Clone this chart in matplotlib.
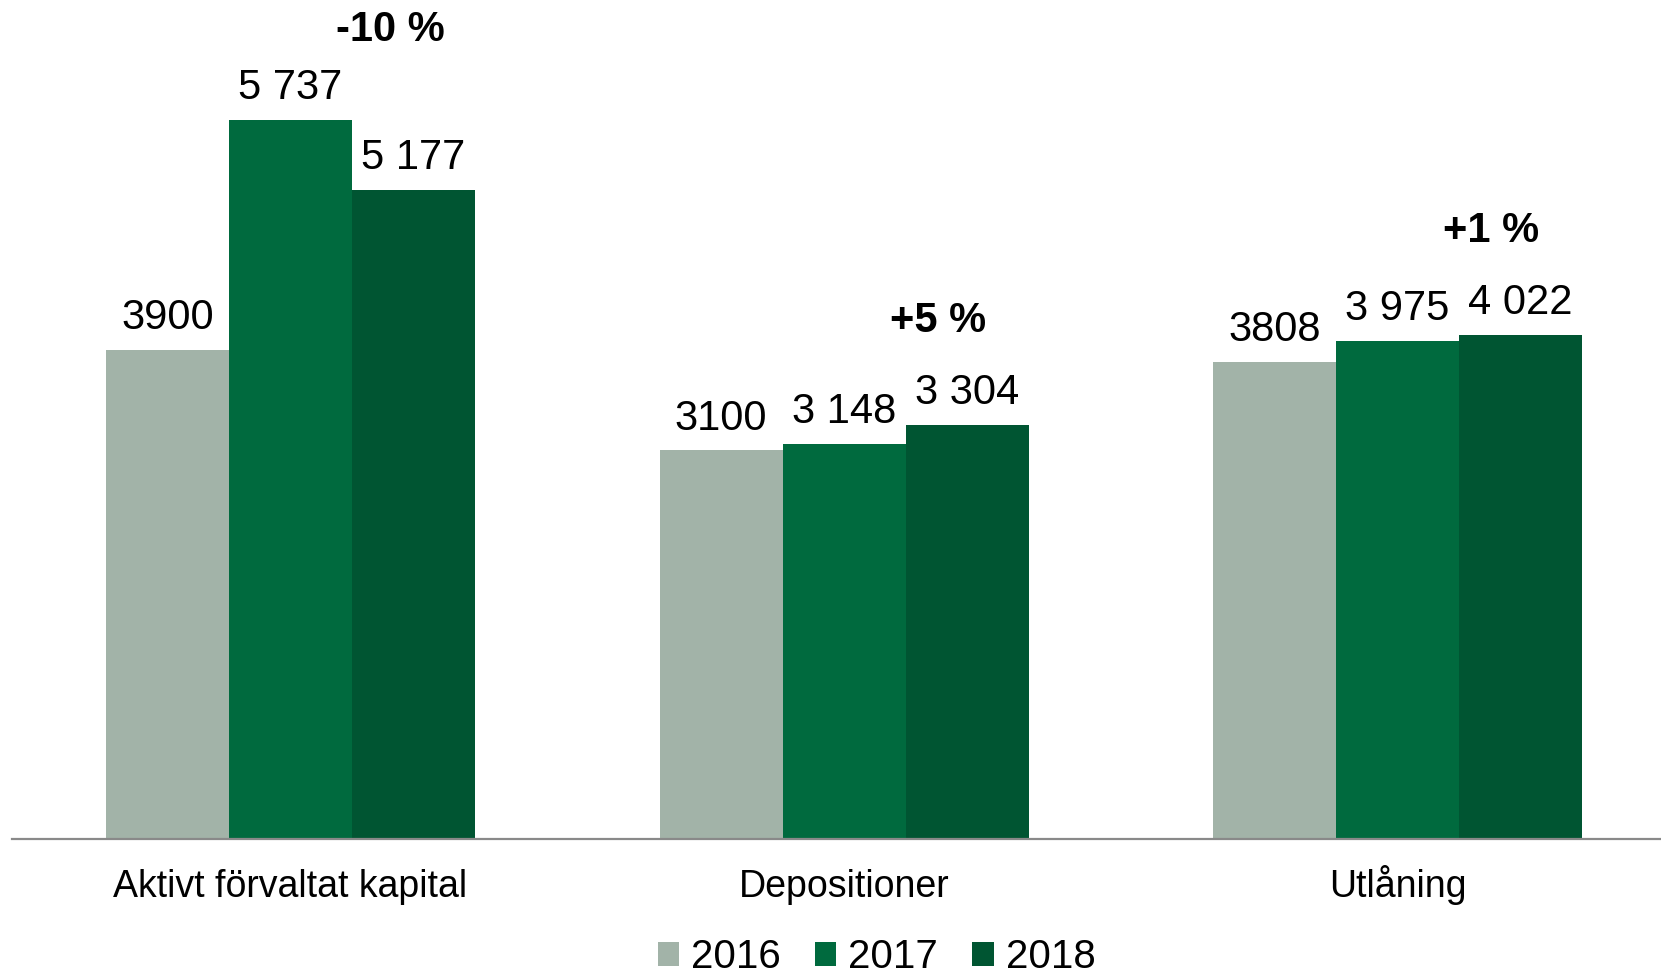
import matplotlib
matplotlib.use("Agg")
import matplotlib.pyplot as plt
from matplotlib.patches import Patch
import numpy as np

# ---- data ----
categories = ["Aktivt förvaltat kapital", "Depositioner", "Utlåning"]
years = ["2016", "2017", "2018"]
values_2016 = [3900, 3100, 3808]
values_2017 = [5737, 3148, 3975]
values_2018 = [5177, 3304, 4022]
labels_2016 = ["3900", "3100", "3808"]
labels_2017 = ["5 737", "3 148", "3 975"]
labels_2018 = ["5 177", "3 304", "4 022"]
changes = ["-10 %", "+5 %", "+1 %"]

colors = ["#A2B3A8", "#006A3E", "#005532"]

plt.rcParams['font.family'] = ['Liberation Sans', 'DejaVu Sans']

W, H = 1661, 974
fig = plt.figure(figsize=(W / 100, H / 100), dpi=100)
left_px, base_px = 12, 839
ax = fig.add_axes([left_px / W, (H - base_px) / H, (W - left_px) / W, base_px / H])

x = np.arange(len(categories))
bw = 2 / 9
series = [values_2016, values_2017, values_2018]
labels = [labels_2016, labels_2017, labels_2018]
for i, (vals, lab) in enumerate(zip(series, labels)):
    b = ax.bar(x + (i - 1) * bw, vals, width=bw, color=colors[i], edgecolor='none', zorder=2)
    ax.bar_label(b, labels=lab, padding=8.5, fontsize=30, color='black')

# percentage change annotations
dx_pts = [-17, -21, -21]
dy_pts = [64.5, 74.5, 74.5]
for j in range(len(categories)):
    top = max(values_2016[j], values_2017[j], values_2018[j])
    ax.annotate(changes[j], xy=(x[j] + bw, top), xytext=(dx_pts[j], dy_pts[j]),
                textcoords='offset points', ha='center', va='center',
                fontsize=30, fontweight='bold', color='black')

ax.set_xlim(-278.5 / 553.5, (W - left_px - 278.5) / 553.5)
ax.set_ylim(0, base_px / 0.12538)

for s in ['top', 'right', 'left']:
    ax.spines[s].set_visible(False)
ax.spines['bottom'].set_color('#898989')
ax.spines['bottom'].set_linewidth(1.6)
ax.set_yticks([])
ax.set_xticks([])

# category labels, aligned on a common baseline
for j, cat in enumerate(categories):
    ax.annotate(cat, xy=(x[j], 0), xycoords=('data', 'axes fraction'),
                xytext=(0, -(897 - base_px) * 0.72), textcoords='offset points',
                ha='center', va='baseline', fontsize=27, color='black',
                annotation_clip=False)

handles = [Patch(facecolor=c, edgecolor='none', label=y) for c, y in zip(colors, years)]
fig.legend(handles=handles, loc='center', bbox_to_anchor=(876.6 / W, 1 - 957 / H),
           ncol=3, frameon=False, fontsize=29, handlelength=0.53, handleheight=0.53,
           handletextpad=0.3, columnspacing=0.85, borderpad=0, borderaxespad=0)

fig.savefig("out.png", dpi=100)
